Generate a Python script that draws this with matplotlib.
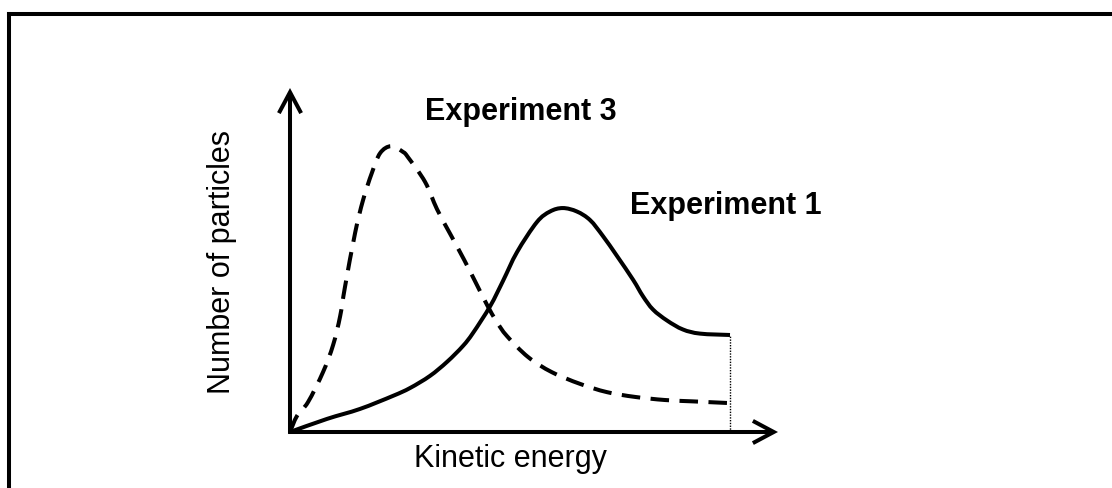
import matplotlib
matplotlib.use("Agg")
import matplotlib.pyplot as plt
from matplotlib.lines import Line2D
from matplotlib.path import Path
from matplotlib.patches import PathPatch

plt.rcParams['font.family'] = ['Liberation Sans', 'DejaVu Sans']

# ---- data (kinetic energy, number of particles), arbitrary units ----
exp1_x = [0, 0.84, 1.59, 2.34, 2.73, 3.18, 3.57, 3.93, 4.16, 4.55, 4.84, 5.16,
          5.61, 5.91, 6.20, 6.52, 6.82, 7.11, 7.43, 7.80, 8.02, 8.25, 8.57,
          8.93, 9.32, 10.0]
exp1_y = [0, 0.38, 0.67, 1.05, 1.28, 1.63, 2.04, 2.50, 2.88, 3.66, 4.39, 5.23,
          6.10, 6.41, 6.51, 6.41, 6.16, 5.70, 5.12, 4.42, 3.95, 3.56, 3.24,
          2.98, 2.86, 2.82]

exp3_x = [0, 0.16, 0.41, 0.75, 0.98, 1.14, 1.25, 1.48, 1.66, 1.86, 2.05, 2.30,
          2.57, 2.68, 3.07, 3.34, 3.64, 3.96, 4.25, 4.48, 4.70, 4.93, 5.41,
          5.95, 6.59, 7.20, 7.84, 8.52, 9.16, 10.0]
exp3_y = [0, 0.47, 0.87, 1.74, 2.53, 3.37, 4.22, 5.79, 6.74, 7.53, 8.11, 8.31,
          8.14, 7.99, 7.27, 6.48, 5.76, 5.00, 4.27, 3.69, 3.20, 2.79, 2.18,
          1.74, 1.40, 1.16, 1.02, 0.93, 0.89, 0.84]

label_exp1 = "Experiment 1"
label_exp3 = "Experiment 3"
xlabel = "Kinetic energy"
ylabel = "Number of particles"


def smooth_path(xs, ys):
    """Cubic Bezier path passing through every read point (Catmull-Rom)."""
    pts = list(zip(xs, ys))
    n = len(pts)
    verts = [pts[0]]
    codes = [Path.MOVETO]
    for i in range(n - 1):
        p0 = pts[i - 1] if i > 0 else pts[i]
        p1 = pts[i]
        p2 = pts[i + 1]
        p3 = pts[i + 2] if i + 2 < n else pts[i + 1]
        c1 = (p1[0] + (p2[0] - p0[0]) / 6, p1[1] + (p2[1] - p0[1]) / 6)
        c2 = (p2[0] - (p3[0] - p1[0]) / 6, p2[1] - (p3[1] - p1[1]) / 6)
        verts += [c1, c2, p2]
        codes += [Path.CURVE4] * 3
    return Path(verts, codes)


# ---- layout ----
W, H = 1112, 488
fig = plt.figure(figsize=(W / 100, H / 100), dpi=100)
ax = fig.add_axes([0, 0, 1, 1])
ax.axis('off')
X0, Y0 = 290, 432      # pixel position of origin
SX, SY = 44.0, 34.4    # pixels per data unit
ax.set_xlim(-X0 / SX, (W - X0) / SX)
ax.set_ylim(-(H - Y0) / SY, Y0 / SY)

LW = 2.9
x_tip = (778 - X0) / SX
y_tip = (Y0 - 88) / SY
arrow = dict(arrowstyle='->,head_length=0.75,head_width=0.4', lw=LW,
             color='black', shrinkA=0, shrinkB=0, mutation_scale=20,
             capstyle='butt', joinstyle='miter')
ax.annotate('', xy=(x_tip, 0), xytext=(-0.04, 0), arrowprops=arrow,
            annotation_clip=False)
ax.annotate('', xy=(0, y_tip), xytext=(0, -0.05), arrowprops=arrow,
            annotation_clip=False)

ax.add_patch(PathPatch(smooth_path(exp1_x, exp1_y), facecolor='none',
                       edgecolor='black', lw=LW, capstyle='butt',
                       joinstyle='round'))
ax.add_patch(PathPatch(smooth_path(exp3_x, exp3_y), facecolor='none',
                       edgecolor='black', lw=LW, linestyle=(0, (4.6, 2.6)),
                       capstyle='butt', joinstyle='round'))

# dotted guide at the end of the curves
ax.plot([exp1_x[-1], exp1_x[-1]], [0, exp1_y[-1]], color='black', lw=1.0,
        dashes=(1, 1))

FS = 22
ax.text(5.25, 9.08, label_exp3, fontsize=FS, fontweight='bold',
        ha='center', va='baseline')
ax.text(9.91, 6.34, label_exp1, fontsize=FS, fontweight='bold',
        ha='center', va='baseline')
ax.text(5.02, -1.02, xlabel, fontsize=FS, ha='center', va='baseline')
ax.text(-1.36, 4.94, ylabel, fontsize=FS, ha='center', va='baseline',
        rotation=90, rotation_mode='anchor')

# frame (top and left visible)
bx = 8.5 / W
by = 1 - 13.5 / H
fig.add_artist(Line2D([bx, 1.01], [by, by], transform=fig.transFigure,
                      color='black', lw=LW, solid_capstyle='projecting'))
fig.add_artist(Line2D([bx, bx], [-0.01, by], transform=fig.transFigure,
                      color='black', lw=LW, solid_capstyle='projecting'))

fig.savefig('out.png', dpi=100)
